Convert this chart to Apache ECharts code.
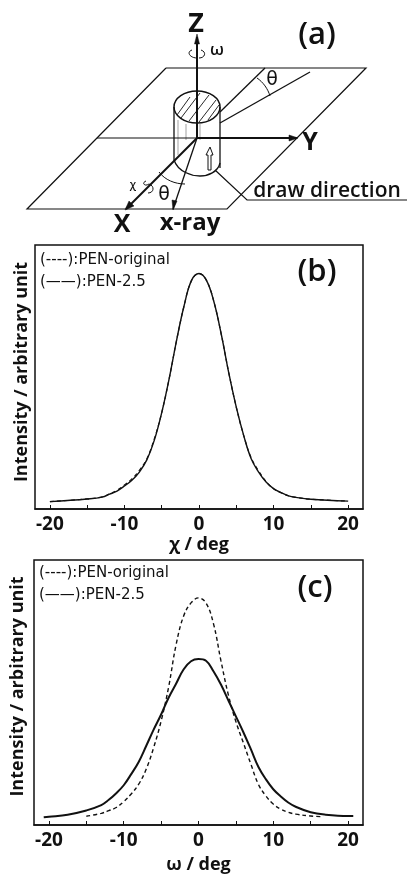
<!DOCTYPE html>
<html><head><meta charset="utf-8">
<style>html,body{margin:0;padding:0;background:#fff}#c{width:407px;height:875px}</style>
<script src="https://cdn.jsdelivr.net/npm/echarts@6/dist/echarts.min.js"></script>
</head><body><div id="c"></div>
<script>
const majorTicks=[-20,-10,0,10,20];
const allTicks=[-20,-15,-10,-5,0,5,10,15,20];
const bOriginal=[[-20,2.8],[-15,3.8],[-13,4.6],[-12,5.7],[-11,7.1],[-10,9.1],[-9,11.4],[-8,14.6],[-7,19],[-6,26.5],[-5,36.5],[-4,49.4],[-3,64],[-2,77],[-1,86.6],[0,89.2],[1,86.6],[2,78.5],[3,66],[4,51.5],[5,38.6],[6,27.8],[7,19.4],[8,14.4],[9,10.4],[10,7.7],[11,6.2],[12,5],[13,4.4],[15,3.7],[20,3]];
const bDrawn=[[-20,2.8],[-15,3.8],[-13,4.5],[-12,5.6],[-11,6.8],[-10,8.7],[-9,10.9],[-8,14],[-7,18.6],[-6,26],[-5,36.5],[-4,49.4],[-3,64],[-2,77],[-1,86.6],[0,89.2],[1,86.6],[2,78.5],[3,66],[4,51.5],[5,38.6],[6,27.8],[7,19],[8,14],[9,10.2],[10,7.7],[11,6.2],[12,5],[13,4.4],[15,3.7],[20,3]];
const cOriginal=[[-15,3.3],[-13,4.4],[-12,5.4],[-11,6.6],[-10,8.8],[-9,11.7],[-8,15.4],[-7,21],[-6,29.2],[-5,39.2],[-4,52],[-3,68],[-2,78.8],[-1,83.8],[0,85.7],[1,83.8],[2,76],[3,62],[4,49],[5,39],[6,31],[7,23],[8,15.4],[9,11],[10,7.9],[11,6],[12,4.8],[13,4.1],[15,3.4],[16.7,3.1]];
const cDrawn=[[-20.7,2.9],[-20,3.1],[-17.5,3.9],[-15,5.5],[-13,7.5],[-12,9.5],[-11,12],[-10,15],[-9,19.2],[-8,23.8],[-7,29.8],[-6,36],[-5,41.7],[-4,48],[-3,53.3],[-2,58.7],[-1,61.8],[0,62.6],[1,62],[2,58],[3,53],[4,47],[5,41],[6,35],[7,28.6],[8,22],[9,17.3],[10,13.5],[11,10.8],[12,8.5],[13,6.9],[15,4.8],[17,3.9],[20,3.4],[20.7,3.4]];
const legendOriginal='(----):PEN-original';
const legendDrawn='(——):PEN-2.5';
const font='"Open Sans",sans-serif';
const K='#111';
function L(pts,w){return{type:'polyline',shape:{points:pts},style:{stroke:K,lineWidth:w||1,fill:null}}}
function T(x,y,s,size,weight,f){return{type:'text',x,y,style:{text:s,fill:K,font:(weight||'bold')+' '+size+'px '+(f||font),textAlign:'center',textVerticalAlign:'middle'}}}
function TL(x,y,s,size){return{type:'text',x,y,style:{text:s,fill:K,font:'500 '+size+'px "DejaVu Sans"',textAlign:'left',textVerticalAlign:'middle'}}}
function Head(pts){return{type:'polygon',shape:{points:pts},style:{fill:K,stroke:K,lineWidth:.5}}}
function B(a,b,c,d,w){return{type:'bezierCurve',shape:{x1:a[0],y1:a[1],cpx1:b[0],cpy1:b[1],cpx2:c[0],cpy2:c[1],x2:d[0],y2:d[1]},style:{stroke:K,lineWidth:w||1,fill:null}}}
const sketch=[
 L([[166,68],[366,68],[227,209],[27,209],[166,68]],1.2),
 L([[97,138],[197,138]],1.2),
 L([[197,138],[297,138]],2),
 Head([[298,138],[289,135],[289,141]]),
 {type:'ellipse',shape:{cx:197,cy:107,rx:23,ry:16},style:{stroke:K,lineWidth:1.5,fill:null}},
 L([[177,115],[190,97]],.9),L([[181,118],[200,93]],.9),L([[189,121],[209,95]],.9),L([[199,122],[216,100]],.9),L([[208,120],[219,105]],.9),
 L([[174,107],[174,160]],1.3),L([[220,107],[220,168]],1.3),
 B([174,160],[178,172],[192,176],[200,176],1.3),B([200,176],[208,176],[218,172],[220,163],1.3),
 L([[178,120],[178,155]],.4),L([[186,124],[186,140]],.4),L([[200,124],[200,140]],.4),
 L([[197,138],[197,37]],2),
 Head([[197,34],[194.5,44],[199.5,44]]),
 B([192,50],[186,52],[190,58],[197,58],1),B([201,50],[207,52],[205,58],[199,58],1),
 L([[197,138],[126,209]],2),
 Head([[125,210],[129,201],[134,206]]),
 L([[197,138],[173,209]],1.3),
 Head([[173,210],[172,200],[177,201]]),
 B([159,172],[165,180],[175,184],[185,184],1),
 B([146,181],[141,183],[145,187],[149,184],1),B([149,184],[155,186],[154,193],[148,193],1),
 L([[220,112],[265,68]],1.3),L([[220,123],[310,72]],1.3),
 B([257,78],[263,82],[268,89],[270,96],1),
 {type:'polygon',shape:{points:[[210,147],[213,155],[211,155],[211,170],[208,170],[208,155],[206,155]]},style:{stroke:K,lineWidth:1,fill:'#fff'}},
 L([[215,170],[247,200],[407,200]],1.2),
 T(196,24,'Z',27,'bold'),T(317,35,'(a)',31,'600'),T(217,50,'ω',17,'600'),
 T(272,80,'θ',19,'500','"DejaVu Sans"'),T(164,195,'θ',19,'500','"DejaVu Sans"'),T(133,185,'χ',11,'600'),
 T(310,143,'Y',25,'bold'),T(122,225,'X',25,'bold'),T(190,223,'x-ray',24,'bold'),
 T(327,191,'draw direction',21,'600'),
 TL(40,260,legendOriginal,15),TL(40,282,legendDrawn,15),T(317,272,'(b)',31,'600'),
 TL(39,573,legendOriginal,15),TL(39,595,legendDrawn,15),T(315,588,'(c)',31,'600')
];
function xA(i,name,gap){return{type:'value',gridIndex:i,min:-22,max:22,name,nameLocation:'middle',nameGap:gap,
 nameTextStyle:{color:K,fontSize:18,fontWeight:'bold',fontFamily:font},
 axisLine:{lineStyle:{color:K,width:1.5}},
 axisTick:{show:true,inside:true,length:4,customValues:allTicks,lineStyle:{color:K,width:1}},
 axisLabel:{show:true,customValues:majorTicks,color:K,fontSize:19,fontWeight:'bold',fontFamily:font,margin:6},
 splitLine:{show:false}}}
function yA(i,gap,pad){return{type:'value',gridIndex:i,min:0,max:100,name:'Intensity / arbitrary unit',nameLocation:'middle',nameGap:gap,
 nameTextStyle:{color:K,fontSize:18,fontWeight:'bold',fontFamily:font,padding:pad},
 axisLine:{show:false},axisTick:{show:false},axisLabel:{show:false},splitLine:{show:false}}}
function S(i,name,data,w,dash){return{type:'line',name,xAxisIndex:i,yAxisIndex:i,data,smooth:.4,showSymbol:false,silent:true,animation:false,
 lineStyle:{color:K,width:w,type:dash?[4,3]:'solid'}}}
const chart=echarts.init(document.getElementById('c'),null,{renderer:'canvas'});
chart.setOption({animation:false,backgroundColor:'#fff',
 grid:[{left:35,top:245,width:328,height:264,show:true,borderColor:K,borderWidth:1.5,backgroundColor:'transparent'},
       {left:34,top:560,width:329,height:266,show:true,borderColor:K,borderWidth:1.5,backgroundColor:'transparent'}],
 xAxis:[xA(0,'χ / deg',27),xA(1,'ω / deg',31)],
 yAxis:[yA(0,4,[0,0,0,10]),yA(1,7,[0,0,0,12])],
 series:[S(0,'PEN-original',bOriginal,1.2,true),S(0,'PEN-2.5',bDrawn,1.4,false),
         S(1,'PEN-original',cOriginal,1.4,true),S(1,'PEN-2.5',cDrawn,2,false)],
 graphic:{elements:sketch.map(e=>Object.assign({silent:true},e))}
});
</script></body></html>
